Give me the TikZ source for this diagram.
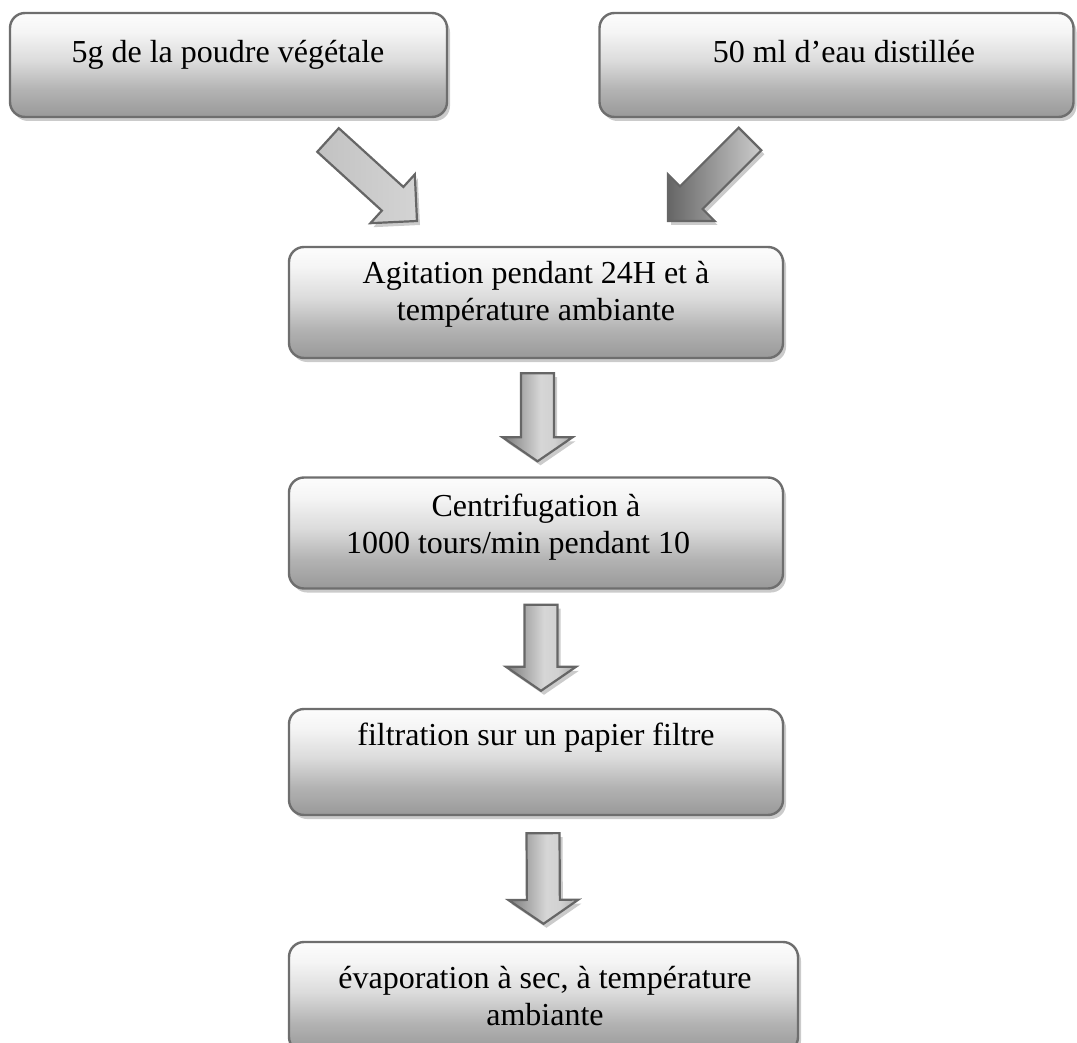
\documentclass[tikz,border=0pt]{standalone}
\usepackage{fontspec}
\setmainfont{Liberation Serif}
\usetikzlibrary{calc,shadows}
\pgfdeclareverticalshading{boxgrad}{100bp}{color(0bp)=(black!40); color(25bp)=(black!40); color(38bp)=(black!30); color(52bp)=(black!14); color(66bp)=(black!4); color(75bp)=(black!1); color(100bp)=(black!1)}
\pgfdeclarehorizontalshading{arrgrad}{100bp}{color(0bp)=(black!52); color(25bp)=(black!52); color(40bp)=(black!32); color(52bp)=(black!16); color(62bp)=(black!18); color(75bp)=(black!34); color(100bp)=(black!34)}
\tikzset{
  box/.style={draw=black!57, line width=2.4pt, rounded corners=15pt, shading=boxgrad,
    drop shadow={shadow xshift=3pt, shadow yshift=-4pt, fill=black!45, opacity=0.45},
    inner sep=0pt},
  lbl/.style={font=\fontsize{32}{37}\selectfont, align=center, inner sep=0pt, anchor=base},
  barrow/.style={draw=black!60, line width=2.2pt, line join=miter,
    drop shadow={shadow xshift=3pt, shadow yshift=-4pt, fill=black!45, opacity=0.45}},
  lightarrow/.style={barrow, left color=black!24, right color=black!17},
  darkarrow/.style={barrow, left color=black!60, right color=black!20},
  downarrow/.style={barrow, shading=arrgrad},
}
% #1 tail coordinate, #2 tip coordinate, #3 shaft half width, #4 head half width, #5 head length, #6 style
\newcommand\blockarrow[6]{%
  \coordinate (#1-h) at ($(#2)!#5!(#1)$);
  \path[#6] ($(#1)!#3!90:(#2)$) -- ($(#1-h)!#3!90:(#2)$) -- ($(#1-h)!#4!90:(#2)$)
    -- (#2) -- ($(#1-h)!#4!-90:(#2)$) -- ($(#1-h)!#3!-90:(#2)$) -- ($(#1)!#3!-90:(#2)$) -- cycle;
}
\begin{document}
\begin{tikzpicture}[x=1pt, y=-1pt]
\useasboundingbox (0,0) rectangle (1077,1043);

% boxes
\node[box, minimum width=437pt, minimum height=104pt] (b1) at (228.5,65) {};
\node[box, minimum width=474pt, minimum height=104pt] (b2) at (836.5,65) {};
\node[box, minimum width=494pt, minimum height=111pt] (b3) at (536,302.5) {};
\node[box, minimum width=494pt, minimum height=111pt] (b4) at (536,533) {};
\node[box, minimum width=494pt, minimum height=106pt] (b5) at (536,762) {};
\node[box, minimum width=509pt, minimum height=110pt] (b6) at (543.5,997) {};

% texts
\node[lbl] (t1) at (228,63) {5g de la poudre végétale};
\node[lbl] (t2) at (844,63) {50 ml d’eau distillée};
\node[lbl] (t3) at (536,320) {Agitation pendant 24H et à\\température ambiante};
\node[lbl] (t4) at (536,553) {Centrifugation à\\1000 tours/min pendant 10\hspace*{36pt}};
\node[lbl] (t5) at (536,745) {filtration sur un papier filtre};
\node[lbl] (t6) at (545,1025) {évaporation à sec, à température\\ambiante};

% arrow end points
\coordinate (la) at (328,140);
\coordinate (lb) at (417,221);
\coordinate (ra) at (750,139);
\coordinate (rb) at (668,221);
\coordinate (d1a) at ($(b3.south)+(1.5,14)$);
\coordinate (d1b) at ($(b4.north)+(1.5,-15)$);
\coordinate (d2a) at ($(b4.south)+(5,15)$);
\coordinate (d2b) at ($(b5.north)+(5,-17)$);
\coordinate (d3a) at ($(b5.south)+(7,17)$);
\coordinate (d3b) at ($(b6.north)+(0,-17)$);

\blockarrow{la}{lb}{16pt}{33pt}{33pt}{lightarrow}
\blockarrow{ra}{rb}{16pt}{33pt}{33pt}{darkarrow}
\blockarrow{d1a}{d1b}{16.5pt}{35pt}{24pt}{downarrow}
\blockarrow{d2a}{d2b}{16.5pt}{35pt}{24pt}{downarrow}
\blockarrow{d3a}{d3b}{16.5pt}{35pt}{24pt}{downarrow}
\end{tikzpicture}
\end{document}
